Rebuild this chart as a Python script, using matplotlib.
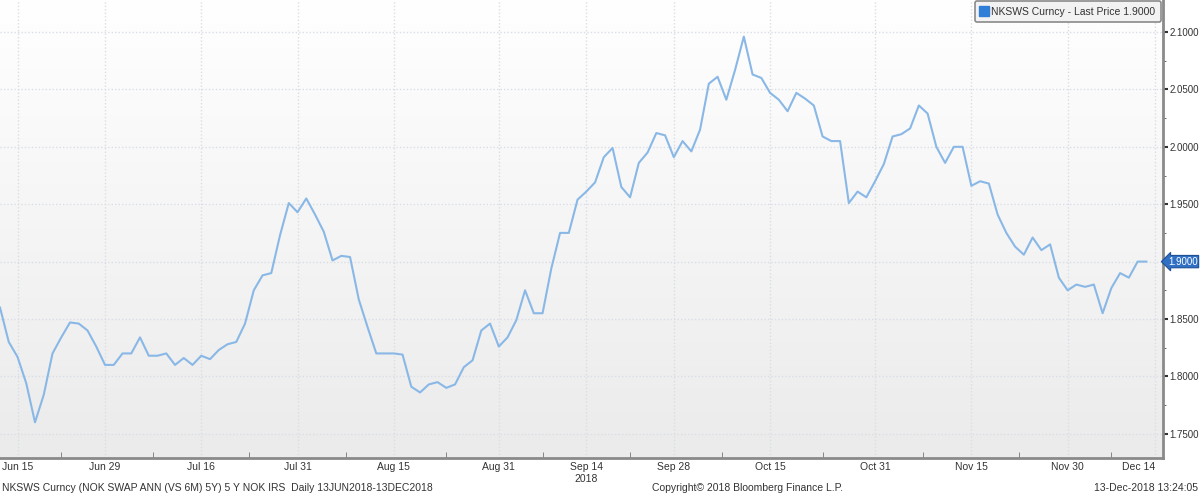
import numpy as np
import pandas as pd
import matplotlib
matplotlib.use("Agg")
import matplotlib.pyplot as plt
from matplotlib.lines import Line2D

plt.rcParams["font.family"] = ["Liberation Sans", "DejaVu Sans"]

# NKSWS Curncy, daily, 13 Jun 2018 - 13 Dec 2018 (business days)
dates = pd.bdate_range("2018-06-13", "2018-12-13")
values = [
    1.860, 1.830, 1.817, 1.794, 1.760, 1.784, 1.820, 1.834, 1.847, 1.846,
    1.840, 1.826, 1.810, 1.810, 1.820, 1.820, 1.834, 1.818, 1.818, 1.820,
    1.810, 1.816, 1.810, 1.818, 1.815, 1.823, 1.828, 1.830, 1.846, 1.875,
    1.888, 1.890, 1.923, 1.951, 1.943, 1.955, 1.941, 1.926, 1.901, 1.905,
    1.904, 1.867, 1.843, 1.820, 1.820, 1.820, 1.819, 1.791, 1.786, 1.793,
    1.795, 1.790, 1.793, 1.808, 1.814, 1.840, 1.846, 1.826, 1.834, 1.849,
    1.875, 1.855, 1.855, 1.894, 1.925, 1.925, 1.954, 1.961, 1.969, 1.991,
    1.999, 1.965, 1.956, 1.986, 1.995, 2.012, 2.010, 1.991, 2.005, 1.996,
    2.015, 2.055, 2.061, 2.041, 2.067, 2.096, 2.063, 2.060, 2.047, 2.041,
    2.031, 2.047, 2.042, 2.036, 2.009, 2.005, 2.005, 1.951, 1.961, 1.956,
    1.970, 1.985, 2.009, 2.011, 2.016, 2.036, 2.029, 2.000, 1.986, 2.000,
    2.000, 1.966, 1.970, 1.968, 1.941, 1.925, 1.913, 1.906, 1.921, 1.910,
    1.915, 1.886, 1.875, 1.880, 1.878, 1.880, 1.855, 1.877, 1.890, 1.886,
    1.900, 1.900,
]
tick_dates = ["2018-06-15", "2018-06-29", "2018-07-16", "2018-07-31",
              "2018-08-15", "2018-08-31", "2018-09-14", "2018-09-28",
              "2018-10-15", "2018-10-31", "2018-11-15", "2018-11-30",
              "2018-12-14"]
tick_labels = ["Jun 15", "Jun 29", "Jul 16", "Jul 31", "Aug 15", "Aug 31",
               "Sep 14", "Sep 28", "Oct 15", "Oct 31", "Nov 15", "Nov 30",
               "Dec 14"]
y_ticks = [1.75, 1.80, 1.85, 1.90, 1.95, 2.00, 2.05, 2.10]
last_price = values[-1]

line_col = "#8ab8e6"
grid_col = "#d9dee6"
txt_col = "#333333"

fig = plt.figure(figsize=(12, 4.97), dpi=100, facecolor="white")
ax = fig.add_axes([0.0, 39 / 497, 1163 / 1200, 458 / 497])

x = np.arange(len(values))
xt = np.searchsorted(dates.values, pd.to_datetime(tick_dates).values)

# soft vertical gradient behind the plot
grad = np.linspace(0, 1, 256).reshape(-1, 1)
ax.imshow(grad, extent=[0, 1, 0, 1], transform=ax.transAxes, aspect="auto",
          cmap=matplotlib.colors.LinearSegmentedColormap.from_list(
              "bg", ["#ebebeb", "#ffffff"]), origin="lower", zorder=0)

ax.plot(x, values, color=line_col, lw=1.5, zorder=3)

ax.set_xlim(0, 132.9)
ax.set_ylim(1.7289, 2.1279)

ax.set_xticks(xt)
ax.set_xticklabels(tick_labels)
ax.set_xticks((xt[:-1] + xt[1:]) / 2, minor=True)
ax.tick_params(axis="x", which="major", length=0, pad=3, labelsize=7.5,
               labelcolor=txt_col)
ax.tick_params(axis="x", which="minor", direction="in", length=4,
               color="#777777")
ax.get_xticklabels()[-1].set_horizontalalignment("right")

ax.yaxis.tick_right()
ax.set_yticks(y_ticks)
ax.set_yticklabels(["%.4f" % v for v in y_ticks])
ax.set_yticks(np.array(y_ticks[:-1]) + 0.025, minor=True)
ax.tick_params(axis="y", which="major", direction="out", length=3.5,
               width=1.5, pad=1, labelsize=7, labelcolor=txt_col,
               color="#333333")
ax.tick_params(axis="y", which="minor", direction="out", length=2,
               color="#555555")

ax.grid(True, which="major", color=grid_col, ls=(0, (1, 1.5)), lw=1)

for s in ["top", "left"]:
    ax.spines[s].set_visible(False)
for s in ["bottom", "right"]:
    ax.spines[s].set_color("#8a8a8a")
    ax.spines[s].set_linewidth(2)

ax.text(xt[6] - 1.4, -0.036, "2018", transform=ax.get_xaxis_transform(),
        fontsize=7.5, color=txt_col, va="top", ha="left")

# last price tag on the right axis
ax.annotate("%.4f" % last_price, xy=(1.0, last_price),
            xycoords=ax.get_yaxis_transform(), xytext=(3.5, 0),
            textcoords="offset points", fontsize=7, color="white",
            va="center", ha="left",
            bbox=dict(boxstyle="larrow,pad=0.12", fc="#2f6fc4", ec="#1e4f96",
                      lw=0.8), annotation_clip=False, zorder=5)

handle = Line2D([], [], marker="s", ls="none", color="#2f7ed8", markersize=7.5)
leg = ax.legend([handle], ["NKSWS Curncy - Last Price %.4f" % last_price],
                loc="upper right", bbox_to_anchor=(0.998, 0.997),
                fontsize=7.5, frameon=True, fancybox=True, framealpha=1,
                facecolor="#f2f2f2", edgecolor="#8a8a8a", handlelength=0.8,
                handletextpad=0.3, borderpad=0.5, borderaxespad=0)
leg.get_frame().set_linewidth(1.2)
for t in leg.get_texts():
    t.set_color(txt_col)

fig.text(0.002, 0.018, "NKSWS Curncy (NOK SWAP ANN (VS 6M) 5Y) 5 Y NOK IRS  "
         "Daily 13JUN2018-13DEC2018", fontsize=7.5, color=txt_col,
         va="center", ha="left")
fig.text(0.543, 0.018, "Copyright\u00a9 2018 Bloomberg Finance L.P.",
         fontsize=7.5, color=txt_col, va="center", ha="left")
fig.text(0.998, 0.018, "13-Dec-2018 13:24:05", fontsize=7.5, color=txt_col,
         va="center", ha="right")

fig.savefig("out.png", dpi=100, facecolor=fig.get_facecolor())
